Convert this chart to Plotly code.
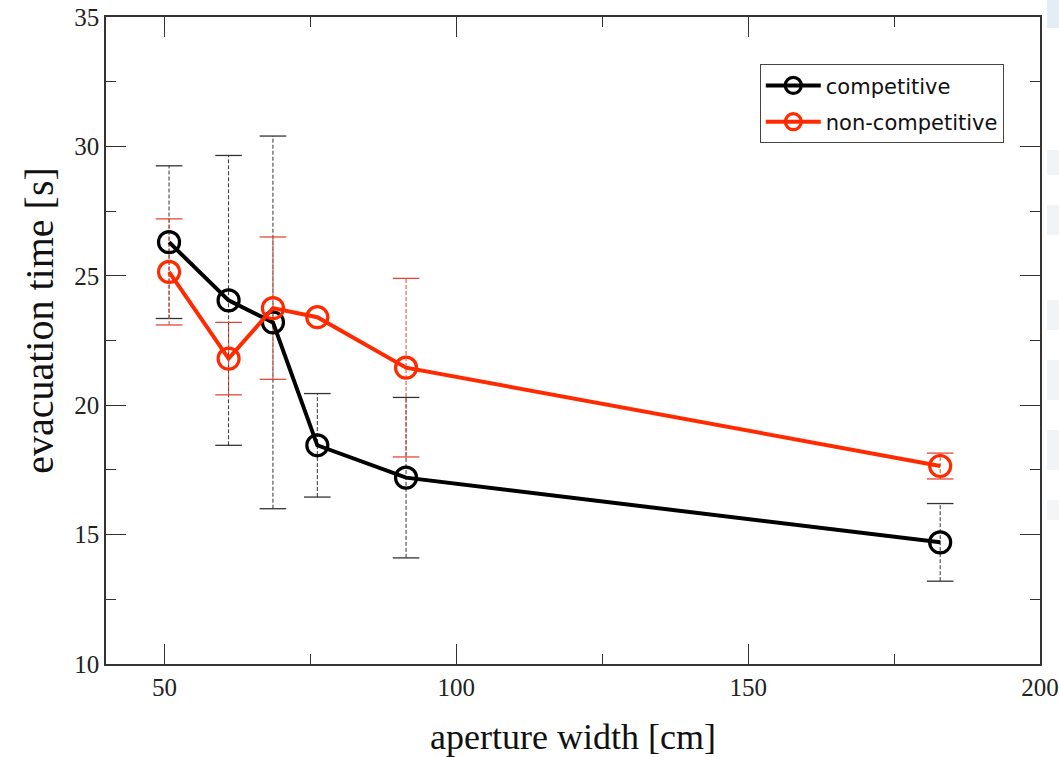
import plotly.graph_objects as go

# ---- data ----
widths = [50.8, 61.0, 68.6, 76.2, 91.4, 182.9]
competitive = [26.3, 24.05, 23.2, 18.45, 17.2, 14.7]
competitive_err = [2.95, 5.6, 7.2, 2.0, 3.1, 1.5]
noncompetitive = [25.15, 21.8, 23.75, 23.4, 21.45, 17.65]
noncompetitive_err = [2.05, 1.4, 2.75, 0.0, 3.45, 0.5]
series_names = ["competitive", "non-competitive"]
x_ticks = [50, 100, 150, 200]
y_ticks = [10, 15, 20, 25, 30, 35]

BLACK = "#000000"
RED = "#ff2a00"
BAR_BLACK = "#333333"
BAR_RED = "#e0483a"


def stems(xs, ys, es):
    sx, sy = [], []
    for x, y, e in zip(xs, ys, es):
        if e > 0:
            sx += [x, x, None]
            sy += [y - e, y + e, None]
    return sx, sy


def caps(xs, ys, es):
    cx, cy = [], []
    for x, y, e in zip(xs, ys, es):
        if e > 0:
            cx += [x, x]
            cy += [y - e, y + e]
    return cx, cy


fig = go.Figure()

for ys, es, col in [(competitive, competitive_err, BAR_BLACK),
                    (noncompetitive, noncompetitive_err, BAR_RED)]:
    sx, sy = stems(widths, ys, es)
    fig.add_trace(go.Scatter(x=sx, y=sy, mode="lines", showlegend=False,
                             hoverinfo="skip",
                             line=dict(color=col, width=1, dash="4px,2px")))
    cx, cy = caps(widths, ys, es)
    fig.add_trace(go.Scatter(x=cx, y=cy, mode="markers", showlegend=False,
                             hoverinfo="skip",
                             marker=dict(symbol="line-ew", size=19,
                                         line=dict(color=col, width=1.3))))

for name, ys, col, grp in [(series_names[0], competitive, BLACK, "a"),
                           (series_names[1], noncompetitive, RED, "b")]:
    fig.add_trace(go.Scatter(
        x=widths, y=ys, mode="lines+markers", name=name, legendgroup=grp,
        line=dict(color=col, width=4),
        marker=dict(symbol="circle-open", size=21, color=col,
                    line=dict(color=col, width=3.2)),
    ))

axis_common = dict(
    showline=True, linecolor="#333333", linewidth=1.5, mirror="ticks",
    ticks="inside", ticklen=20, tickwidth=1.3, tickcolor="#333333",
    showgrid=False, zeroline=False, automargin=False,
    ticklabeloverflow="allow",
    tickfont=dict(family="Liberation Serif", size=25, color="#222222"),
)

fig.update_xaxes(range=[40, 200], tickvals=x_ticks,
                 minor=dict(dtick=25, tick0=0, ticks="inside", ticklen=10,
                            tickwidth=1.3, tickcolor="#333333", showgrid=False),
                 title=dict(text="aperture width [cm]", standoff=24,
                            font=dict(family="Liberation Serif", size=36,
                                      color="#111111")),
                 **axis_common)
fig.update_yaxes(range=[10, 35], tickvals=y_ticks,
                 minor=dict(dtick=2.5, tick0=0, ticks="inside", ticklen=10,
                            tickwidth=1.3, tickcolor="#333333", showgrid=False),
                 **axis_common)

fig.add_annotation(text="evacuation time [s]", xref="paper", yref="paper",
                   x=-0.0707, y=0.532, xanchor="center", yanchor="middle",
                   textangle=-90, showarrow=False,
                   font=dict(family="Liberation Serif", size=40, color="#111111"))

# faint watermark blocks at the right edge
for y0, y1, c in [(0, 28, "#e4edf3"), (150, 175, "#f1f4f6"), (205, 235, "#f1f4f6"),
                  (300, 330, "#f1f4f6"), (360, 400, "#f1f4f6"), (430, 470, "#f1f4f6"),
                  (500, 520, "#f3f5f7")]:
    fig.add_shape(type="rect", xref="paper", yref="paper",
                  x0=(1047 - 106) / 934, x1=(1059 - 106) / 934,
                  y0=1 - (y1 - 17) / 647, y1=1 - (y0 - 17) / 647,
                  line=dict(width=0), fillcolor=c, layer="below")

fig.update_layout(
    width=1059, height=757,
    margin=dict(l=106, r=19, t=17, b=93, autoexpand=False),
    paper_bgcolor="white", plot_bgcolor="white",
    showlegend=True,
    legend=dict(x=0.700, y=0.927, xanchor="left", yanchor="top",
                bgcolor="white", bordercolor="#444444", borderwidth=1,
                font=dict(family="DejaVu Sans", size=21, color="#111111"),
                tracegroupgap=6, itemwidth=55),
)

fig.write_html("out.html")
